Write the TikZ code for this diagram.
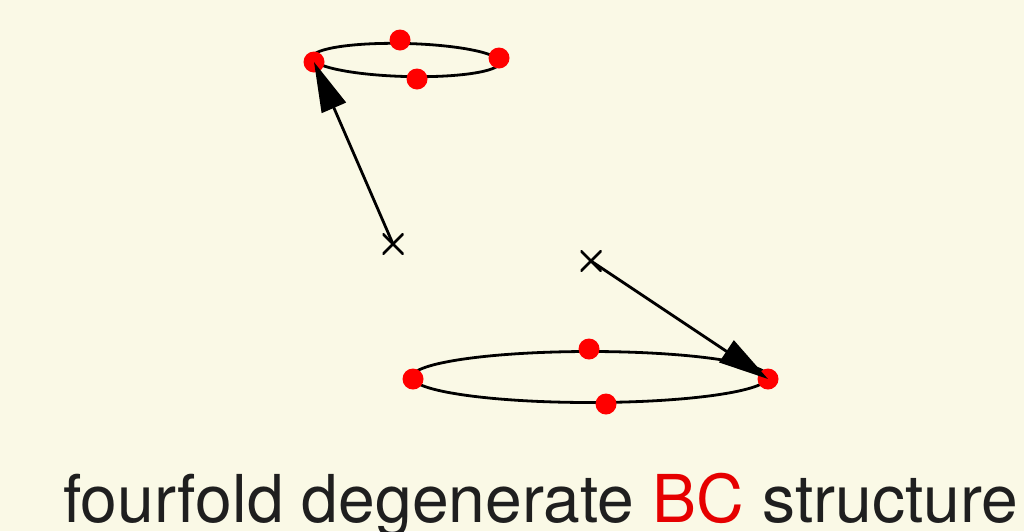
\documentclass[tikz,border=0pt]{standalone}
\usepackage{fontspec}
\setmainfont{TeX Gyre Heros}
\usetikzlibrary{arrows.meta}
\definecolor{bgc}{RGB}{250,249,230}
\definecolor{dotred}{RGB}{255,0,0}
\definecolor{txtred}{RGB}{230,0,0}
\tikzset{
  dot/.style={circle,fill=dotred,inner sep=0pt,minimum size=21pt},
  ring/.style={line width=2.8pt,draw=black},
  cross/.style={inner sep=0pt,minimum size=21pt,draw=none,
    path picture={\draw[line width=2.8pt] (path picture bounding box.south west)--(path picture bounding box.north east)
      (path picture bounding box.north west)--(path picture bounding box.south east);}},
  conn/.style={line width=2.8pt,-{Triangle[length=50pt,width=26pt]}},
}
\begin{document}
\begin{tikzpicture}[x=1pt,y=-1pt]
\fill[bgc] (0,0) rectangle (1024,531);
\useasboundingbox (0,0) rectangle (1024,531);
% top ellipse
\draw[ring,rotate around={-1.5:(406,60)}] (406,60) ellipse [x radius=94, y radius=16.5];
\node[dot] (t1) at (314,62) {};
\node[dot] (t2) at (400,40) {};
\node[dot] (t3) at (499,58) {};
\node[dot] (t4) at (417,79) {};
% bottom ellipse
\draw[ring] (590,377) ellipse [x radius=178, y radius=25.5];
\node[dot] (b1) at (413,379) {};
\node[dot] (b2) at (589,349) {};
\node[dot] (b3) at (768,379) {};
\node[dot] (b4) at (606,404) {};
% crosses
\node[cross] (c1) at (393,244) {};
\node[cross] (c2) at (591,261) {};
\draw[conn] (c1.center) -- (t1.center);
\draw[conn] (c2.center) -- (b3.center);
\node[anchor=base west,inner sep=0pt,font=\fontsize{66}{72}\selectfont,text=black!88] (cap) at (63,522) {fourfold degenerate \textcolor{txtred}{BC} structure};
\end{tikzpicture}
\end{document}
